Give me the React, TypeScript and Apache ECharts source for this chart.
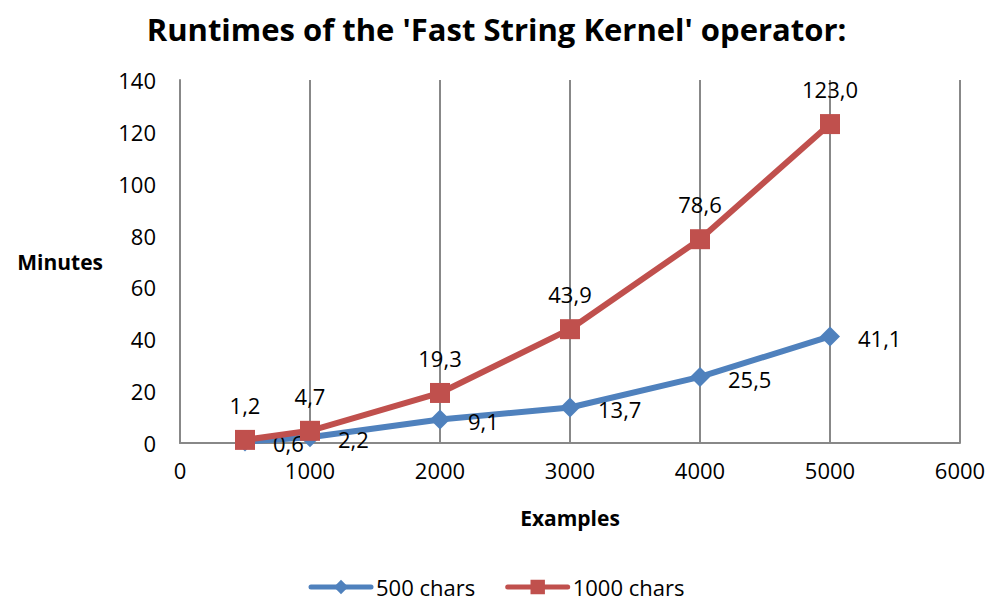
import React, { useEffect, useRef } from "react";
import * as echarts from "echarts";

const examples = [500, 1000, 2000, 3000, 4000, 5000];
const chars500 = [0.6, 2.2, 9.1, 13.7, 25.5, 41.1];
const chars1000 = [1.2, 4.7, 19.3, 43.9, 78.6, 123.0];
const seriesNames = ["500 chars", "1000 chars"];

const FONT = "'Open Sans', 'Noto Sans', sans-serif";
const fmt = (v: number) => v.toFixed(1).replace(".", ",");

export default function App() {
  const ref = useRef<HTMLDivElement>(null);
  useEffect(() => {
    if (!ref.current) return;
    const chart = echarts.init(ref.current, undefined, { renderer: "svg" });
    chart.setOption({
      animation: false,
      backgroundColor: "#fff",
      title: {
        text: "Runtimes of the 'Fast String Kernel' operator:",
        left: "center",
        top: 8,
        textStyle: { fontFamily: FONT, fontSize: 31, fontWeight: "bold", color: "#000" },
      },
      grid: { left: 180, right: 33, top: 80, bottom: 160, outerBoundsMode: "none", containLabel: false },
      legend: {
        bottom: 0,
        left: "center",
        itemWidth: 60,
        itemHeight: 18,
        itemGap: 30,
        lineStyle: { width: 5, cap: "round" },
        textStyle: { fontFamily: FONT, fontSize: 22, color: "#000" },
        data: seriesNames,
      },
      xAxis: {
        type: "value",
        min: 0,
        max: 6000,
        interval: 1000,
        name: "Examples",
        nameLocation: "middle",
        nameGap: 64,
        nameTextStyle: { fontFamily: FONT, fontSize: 21, fontWeight: "bold", color: "#000" },
        axisLine: { show: true, lineStyle: { color: "#888", width: 2 } },
        axisTick: { show: false },
        axisLabel: {
          fontFamily: FONT,
          fontSize: 22,
          color: "#000",
          margin: 16,
          formatter: (v: number) => String(v),
        },
        splitLine: { show: true, lineStyle: { color: "#888", width: 2 } },
      },
      yAxis: {
        type: "value",
        min: 0,
        max: 140,
        interval: 20,
        name: "Minutes",
        nameLocation: "middle",
        nameRotate: 0,
        nameGap: 77,
        nameTextStyle: { fontFamily: FONT, fontSize: 21, fontWeight: "bold", color: "#000" },
        axisLine: { show: true, lineStyle: { color: "#888", width: 2 } },
        axisTick: { show: false },
        axisLabel: { fontFamily: FONT, fontSize: 22, color: "#000", margin: 24 },
        splitLine: { show: false },
      },
      series: [
        {
          name: seriesNames[0],
          type: "line",
          data: examples.map((x, i) => [x, chars500[i]]),
          color: "#4F81BD",
          lineStyle: { width: 6, color: "#4F81BD" },
          symbol: "diamond",
          symbolSize: 20,
          itemStyle: { color: "#4F81BD" },
          label: {
            show: true,
            position: "right",
            distance: 18,
            offset: [0, 2],
            formatter: (p: any) => fmt(p.value[1]),
            fontFamily: FONT,
            fontSize: 22,
            color: "#000",
          },
          z: 2,
        },
        {
          name: seriesNames[1],
          type: "line",
          data: examples.map((x, i) => [x, chars1000[i]]),
          color: "#C0504D",
          lineStyle: { width: 6, color: "#C0504D" },
          symbol: "rect",
          symbolSize: 20,
          itemStyle: { color: "#C0504D" },
          label: {
            show: true,
            position: "top",
            distance: 14,
            formatter: (p: any) => fmt(p.value[1]),
            fontFamily: FONT,
            fontSize: 22,
            color: "#000",
          },
          z: 3,
        },
      ],
    });
    return () => chart.dispose();
  }, []);
  return (
    <div
      ref={ref}
      style={{ position: "absolute", left: 0, top: 0, width: 993, height: 603 }}
    />
  );
}
